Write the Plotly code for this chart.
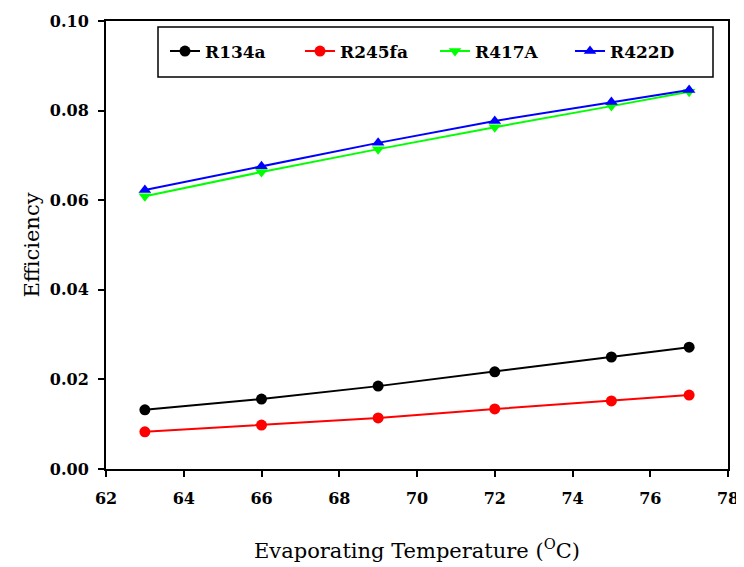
import plotly.graph_objects as go

temps = [63, 66, 69, 72, 75, 77]
r134a = [0.0132, 0.0156, 0.0185, 0.0217, 0.0250, 0.0272]
r245fa = [0.0083, 0.0098, 0.0114, 0.0134, 0.0152, 0.0165]
r417a = [0.0609, 0.0663, 0.0714, 0.0763, 0.0810, 0.0842]
r422d = [0.0623, 0.0676, 0.0728, 0.0777, 0.0819, 0.0846]

series = [
    ("R134a", r134a, "black", "circle"),
    ("R245fa", r245fa, "#ff0000", "circle"),
    ("R417A", r417a, "#00ff00", "triangle-down"),
    ("R422D", r422d, "#0000ff", "triangle-up"),
]

FONT = "DejaVu Serif"

fig = go.Figure()
for name, vals, col, sym in series:
    fig.add_trace(go.Scatter(
        x=temps, y=vals, name=name, mode="lines+markers",
        line=dict(color=col, width=2),
        marker=dict(color=col, symbol=sym, size=11),
    ))

axis_common = dict(
    showline=True, linecolor="black", linewidth=2, mirror=True,
    ticks="outside", ticklen=6, tickwidth=1.5, tickcolor="black",
    showgrid=False, zeroline=False, automargin=False,
    ticklabeloverflow="allow",
    tickfont=dict(family=FONT, size=16, color="black", weight="bold"),
)

# plot area in page pixels: x 106..728, y 21..469 (page has an 8px body offset)
PW, PH = 622, 448

fig.update_layout(
    width=736, height=559,
    margin=dict(l=98, r=16, t=13, b=98),
    plot_bgcolor="white", paper_bgcolor="white",
    xaxis=dict(range=[62, 78], tickvals=list(range(62, 79, 2)),
               ticklabelstandoff=8,
               title=dict(text="Evaporating Temperature (<sup>O</sup>C)",
                          font=dict(family=FONT, size=21, color="black"),
                          standoff=36),
               **axis_common),
    yaxis=dict(range=[0, 0.1], tickvals=[0, 0.02, 0.04, 0.06, 0.08, 0.10],
               tickformat=".2f", ticklabelstandoff=6,
               title=dict(text="Efficiency",
                          font=dict(family=FONT, size=21, color="black"),
                          standoff=4),
               **axis_common),
    legend=dict(orientation="h", x=(165 - 106) / PW, y=0.972,
                xanchor="left", yanchor="top",
                borderwidth=0, bgcolor="rgba(0,0,0,0)",
                font=dict(family=FONT, size=17, color="black", weight="bold"),
                entrywidth=90, entrywidthmode="pixels"),
    shapes=[dict(type="rect", xref="paper", yref="paper",
                 x0=(158 - 106) / PW, x1=(713 - 106) / PW,
                 y0=(469 - 77) / PH, y1=(469 - 27) / PH,
                 line=dict(color="black", width=1.5), fillcolor="white",
                 layer="below")],
    showlegend=True,
)

fig.write_html("out.html")
